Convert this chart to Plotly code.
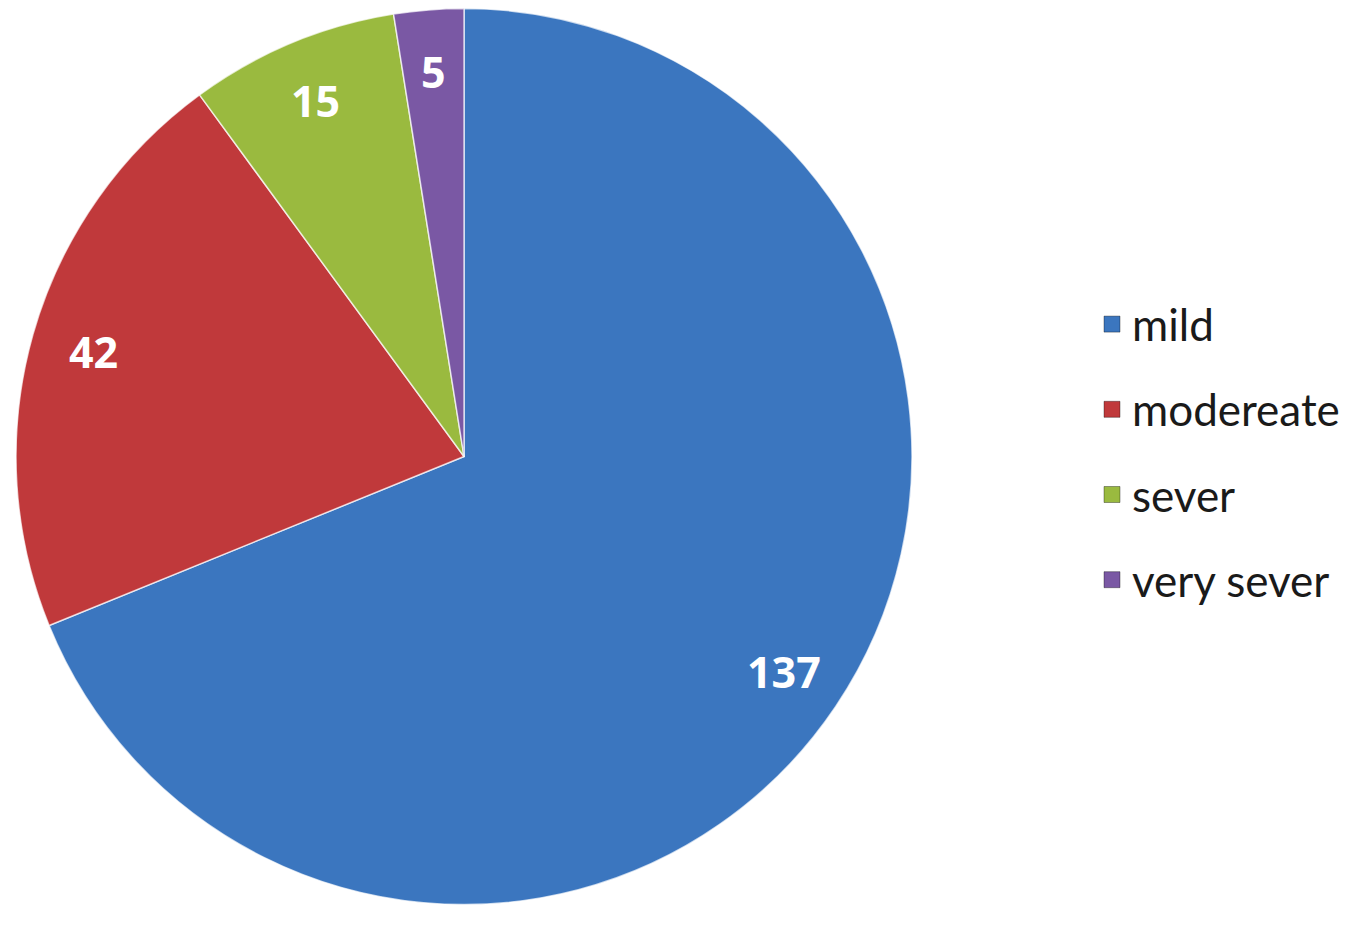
import math
import plotly.graph_objects as go

labels = ["mild", "modereate", "sever", "very sever"]
values = [137, 42, 15, 5]
colors = ["#3b76bf", "#c0393b", "#9aba3f", "#7a58a4"]

W, H = 1354, 928
OFF = 8  # page body margin
# pie domain in pixels (page coords)
px0, px1 = 16 - OFF, 912 - OFF
py_top, py_bot = 8 - OFF, 905 - OFF
dom_x = [px0 / W, px1 / W]
dom_y = [1 - py_bot / H, 1 - py_top / H]

fig = go.Figure()
fig.add_trace(go.Pie(
    labels=labels, values=values, sort=False, direction="clockwise", rotation=0,
    marker=dict(colors=colors, line=dict(color="rgba(255,255,255,0.7)", width=1.5)),
    textinfo="none", hoverinfo="label+value", showlegend=False,
    domain=dict(x=dom_x, y=dom_y),
))

# legend entries (one per category)
for lab, col in zip(labels, colors):
    fig.add_trace(go.Scatter(
        x=[None], y=[None], mode="markers", name=lab, legendgroup=lab,
        marker=dict(symbol="square", size=16, color=col, line=dict(color="rgba(0,0,0,0.35)", width=1)),
    ))

# value labels placed at each slice's mid-angle
total = sum(values)
cx = (dom_x[0] + dom_x[1]) / 2
cy = (dom_y[0] + dom_y[1]) / 2
rx = (dom_x[1] - dom_x[0]) / 2
ry = (dom_y[1] - dom_y[0]) / 2
frac = 0.86
cum = 0
for v in values:
    mid = (cum + v / 2) / total * 2 * math.pi
    cum += v
    fig.add_annotation(
        x=cx + frac * rx * math.sin(mid), y=cy + frac * ry * math.cos(mid),
        xref="paper", yref="paper", text=str(v), showarrow=False,
        font=dict(family="Open Sans", size=43, color="white", weight="bold"),
        xanchor="center", yanchor="middle",
    )

fig.update_layout(
    width=W, height=H, margin=dict(l=0, r=0, t=0, b=0),
    paper_bgcolor="white", plot_bgcolor="white",
    xaxis=dict(visible=False), yaxis=dict(visible=False),
    legend=dict(x=1084 / W, y=1 - 444 / H, xanchor="left", yanchor="middle",
                font=dict(family="Lato", size=44, color="#1a1a1a"),
                tracegroupgap=25, itemsizing="trace"),
)

fig.write_html("out.html")
